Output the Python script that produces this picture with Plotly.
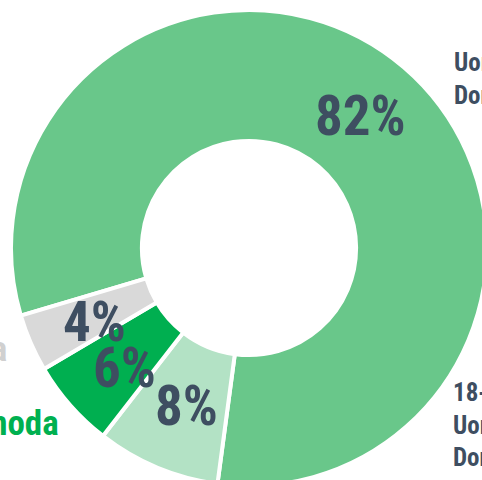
import plotly.graph_objects as go

# ---- data ----
categories = ["Uomini e Donne", "18-34 Uomini e Donne", "Scelta monoda", "Altra risposta"]
values = [81.7, 8.4, 6.0, 3.9]
slice_colors = ["#69C78A", "#B3E2C5", "#00AF50", "#D9D9D9"]

W, H = 500, 500
CX, CY, R = 249, 248, 238

def px(x):
    return x / W

def py(y):
    return 1 - y / H

fig = go.Figure(go.Pie(
    labels=categories,
    values=values,
    sort=False,
    direction="clockwise",
    rotation=253.5,
    hole=0.45,
    marker=dict(colors=slice_colors, line=dict(color="white", width=4)),
    textinfo="none",
    hoverinfo="label+percent",
    domain=dict(x=[px(CX - R), px(CX + R)], y=[py(CY + R), py(CY - R)]),
))

FONT = "Liberation Sans Narrow, Roboto Condensed, Arial Narrow, Liberation Sans, sans-serif"
DARK = "#3E4E61"

# percentage labels
pct_pos = [(360, 116), (186, 406), (124, 368), (94, 322)]
for v, (x, y) in zip(values, pct_pos):
    fig.add_annotation(x=px(x), y=py(y), xref="paper", yref="paper",
                       text=f"<b>{round(v):d}%</b>", showarrow=False,
                       font=dict(family=FONT, size=55, color=DARK),
                       xanchor="center", yanchor="middle")

# category labels (partly outside the view)
fig.add_annotation(x=px(452), y=py(79), xref="paper", yref="paper",
                   text="<b>Uomini</b><br><b>Donne</b>", showarrow=False, align="left",
                   font=dict(family=FONT, size=25, color=DARK),
                   xanchor="left", yanchor="middle")
fig.add_annotation(x=px(451), y=py(425), xref="paper", yref="paper",
                   text="<b>18-34</b><br><b>Uomini</b><br><b>Donne</b>", showarrow=False, align="left",
                   font=dict(family=FONT, size=25, color=DARK),
                   xanchor="left", yanchor="middle")
fig.add_annotation(x=px(9), y=py(349), xref="paper", yref="paper",
                   text="<b>Altra risposta</b>", showarrow=False, align="right",
                   font=dict(family=FONT, size=35, color="#D0D0D0"),
                   xanchor="right", yanchor="middle")
fig.add_annotation(x=px(61), y=py(423), xref="paper", yref="paper",
                   text="<b>Scelta monoda</b>", showarrow=False, align="right",
                   font=dict(family=FONT, size=35, color="#00B050"),
                   xanchor="right", yanchor="middle")

fig.update_layout(width=W, height=H, margin=dict(l=0, r=0, t=0, b=0),
                  showlegend=False, paper_bgcolor="white", plot_bgcolor="white")

fig.write_html("out.html", config={"displayModeBar": False}, post_script=(
    "document.documentElement.style.overflow='hidden';"
    "document.body.style.overflow='hidden';"
    "document.body.style.margin='0';"))
